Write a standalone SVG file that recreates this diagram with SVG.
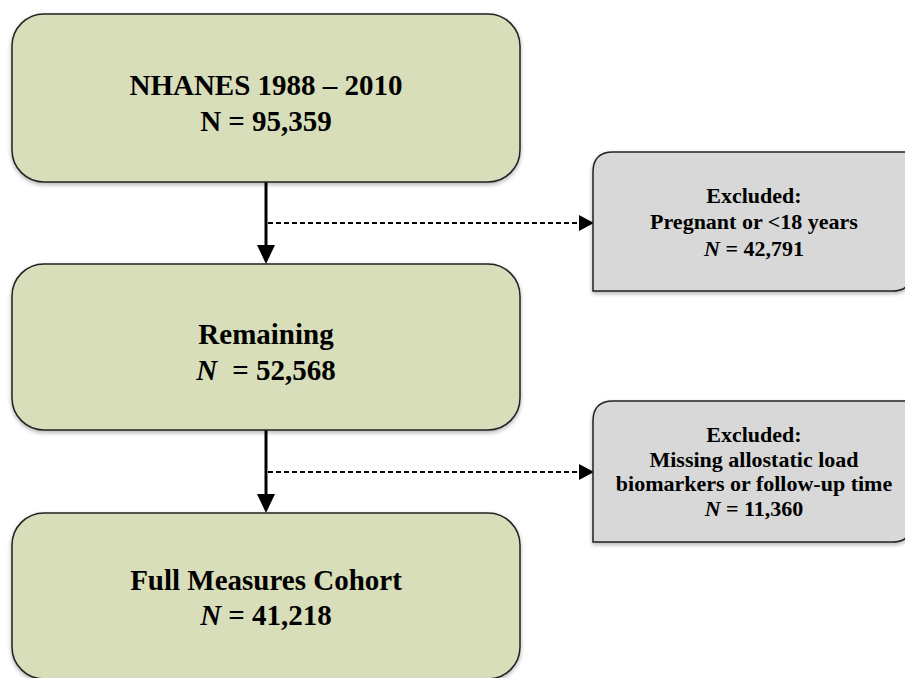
<svg xmlns="http://www.w3.org/2000/svg" width="905" height="678" viewBox="0 0 905 678">
<style>
.main{fill:#d8ddba;stroke:#222;stroke-width:1.5}
.excl{fill:#d8d8d8;stroke:#222;stroke-width:1.5}
.t{font-family:"Liberation Serif","Times New Roman",serif;font-weight:bold;fill:#000;text-anchor:middle}
.big{font-size:29px}
.small{font-size:22px}
.solid{stroke:#000;stroke-width:3;fill:none}
.dash{stroke:#000;stroke-width:2;stroke-dasharray:5 3;fill:none}
</style>
<defs>
<filter id="sh" x="-5%" y="-5%" width="110%" height="115%">
<feDropShadow dx="0" dy="2" stdDeviation="2" flood-color="#000" flood-opacity="0.3"/>
</filter>
</defs>
<g id="connectors">
<line class="solid" x1="266" y1="182" x2="266" y2="246"/>
<path d="M257,245 L275,245 L266,264 Z" fill="#000"/>
<line class="dash" x1="268" y1="223" x2="580" y2="223"/>
<path d="M579,215 L594,223 L579,231 Z" fill="#000"/>
<line class="solid" x1="266" y1="430" x2="266" y2="495"/>
<path d="M257,494 L275,494 L266,513 Z" fill="#000"/>
<line class="dash" x1="268" y1="472" x2="580" y2="472"/>
<path d="M579,464 L594,472 L579,480 Z" fill="#000"/>
</g>
<g id="n1">
<rect class="main" x="12" y="14" width="508" height="168" rx="32" filter="url(#sh)"/>
<text class="t big" x="266" y="95">NHANES 1988 – 2010</text>
<text class="t big" x="266" y="131">N = 95,359</text>
</g>
<g id="n2">
<rect class="main" x="12" y="264" width="508" height="166" rx="32" filter="url(#sh)"/>
<text class="t big" x="266" y="344">Remaining</text>
<text class="t big" x="266" y="380"><tspan font-style="italic">N</tspan><tspan dx="8"> = 52,568</tspan></text>
</g>
<g id="n3">
<rect class="main" x="12" y="513" width="508" height="166" rx="32" filter="url(#sh)"/>
<text class="t big" x="266" y="590">Full Measures Cohort</text>
<text class="t big" x="266" y="625"><tspan font-style="italic">N</tspan> = 41,218</text>
</g>
<g id="e1">
<path class="excl" d="M613,152 L912,152 L912,271 Q912,291 892,291 L593,291 L593,172 Q593,152 613,152 Z" filter="url(#sh)"/>
<text class="t small" x="754" y="203">Excluded:</text>
<text class="t small" x="754" y="229">Pregnant or &lt;18 years</text>
<text class="t small" x="754" y="256"><tspan font-style="italic">N</tspan> = 42,791</text>
</g>
<g id="e2">
<path class="excl" d="M613,401 L912,401 L912,522 Q912,542 892,542 L593,542 L593,421 Q593,401 613,401 Z" filter="url(#sh)"/>
<text class="t small" x="754" y="442">Excluded:</text>
<text class="t small" x="754" y="467">Missing allostatic load</text>
<text class="t small" x="754" y="491">biomarkers or follow-up time</text>
<text class="t small" x="754" y="516"><tspan font-style="italic">N</tspan> = 11,360</text>
</g>
</svg>
